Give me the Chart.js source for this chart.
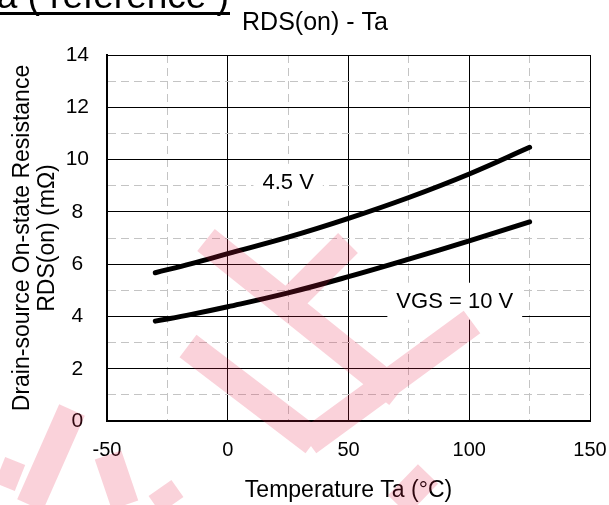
<!DOCTYPE html>
<html>
<head>
<meta charset="utf-8">
<script src="https://cdn.jsdelivr.net/npm/chart.js@4.4.1/dist/chart.umd.min.js"></script>
<style>
html, body { margin: 0; padding: 0; background: #fff; }
</style>
</head>
<body>
<canvas id="myChart" width="609" height="505"></canvas>
<script>
// RDS(on) - Ta
var temps = [-30, -15, 0, 25, 50, 75, 100, 125];
var rds45 = [5.67, 6.02, 6.4, 7.03, 7.75, 8.55, 9.45, 10.47];
var rds10 = [3.82, 4.08, 4.37, 4.9, 5.52, 6.19, 6.89, 7.62];
var seriesNames = ['VGS = 4.5 V', 'VGS = 10 V'];
var xTicks = [-50, 0, 50, 100, 150];
var yTicks = [0, 2, 4, 6, 8, 10, 12, 14];
// curve labels, anchored in data units
var noteText = ['4.5 V', 'VGS = 10 V'];
var noteX = [25, 94];
var noteY = [9.15, 4.6];

var FONT = "'Liberation Sans', Arial, sans-serif";
Chart.defaults.font.family = FONT;
Chart.defaults.color = '#000';

function pts(ys) {
    return temps.map(function (t, i) { return { x: t, y: ys[i] }; });
}

// curve labels with a white box behind them
var notes = {
    id: 'notes',
    afterDatasetsDraw: function (chart) {
        var c = chart.ctx, xs = chart.scales.x, ys = chart.scales.y;
        c.save();
        c.font = '22px ' + FONT;
        c.textAlign = 'center';
        c.textBaseline = 'middle';
        for (var i = 0; i < noteText.length; i++) {
            var px = xs.getPixelForValue(noteX[i]);
            var py = ys.getPixelForValue(noteY[i]);
            var w = c.measureText(noteText[i]).width;
            c.fillStyle = '#fff';
            c.fillRect(px - w / 2 - 9, py - 18, w + 18, 37);
            c.fillStyle = '#000';
            c.fillText(noteText[i], px, py + 1);
        }
        c.restore();
    }
};

// page heading, chart title and the pink watermark of the scan
var decor = {
    id: 'decor',
    afterDraw: function (chart) {
        var c = chart.ctx;
        c.save();
        c.fillStyle = '#000';
        c.font = '37px ' + FONT;
        c.textAlign = 'right';
        c.textBaseline = 'alphabetic';
        c.fillText('a ( reference )', 229, 8);
        c.fillRect(0, 12, 230, 3);

        c.font = '25px ' + FONT;
        c.textAlign = 'center';
        c.textBaseline = 'middle';
        c.fillText('RDS(on) - Ta', 315, 23);

        c.strokeStyle = 'rgba(230, 30, 70, 0.2)';
        c.lineWidth = 28;
        c.lineCap = 'butt';
        c.beginPath();
        [[206, 240, 398, 394], [348, 243, 285, 306], [188, 346, 314, 442],
         [472, 322, 308, 442], [72, 410, 30, 505], [108, 455, 125, 505],
         [160, 488, 172, 505], [0, 470, 20, 478], [398, 505, 428, 474]].forEach(function (s) {
            c.moveTo(s[0], s[1]);
            c.lineTo(s[2], s[3]);
        });
        c.stroke();
        c.restore();
    }
};

function isMajor(ctx, list) {
    return ctx.tick && list.indexOf(ctx.tick.value) >= 0;
}

var myChart = new Chart(document.getElementById('myChart').getContext('2d'), {
    type: 'line',
    data: {
        datasets: [{
            label: seriesNames[0],
            data: pts(rds45),
            borderColor: '#000',
            borderWidth: 5,
            borderCapStyle: 'round',
            pointRadius: 0,
            tension: 0.4,
            fill: false
        }, {
            label: seriesNames[1],
            data: pts(rds10),
            borderColor: '#000',
            borderWidth: 5,
            borderCapStyle: 'round',
            pointRadius: 0,
            tension: 0.4,
            fill: false
        }]
    },
    options: {
        responsive: false,
        animation: false,
        devicePixelRatio: 1,
        layout: { padding: { left: 0, right: 19, top: 55, bottom: 0 } },
        plugins: { legend: { display: false }, tooltip: { enabled: false } },
        scales: {
            x: {
                type: 'linear',
                min: -50,
                max: 150,
                ticks: {
                    stepSize: 25,
                    autoSkip: false,
                    maxRotation: 0,
                    padding: 17,
                    font: { size: 20 },
                    callback: function (v) { return xTicks.indexOf(v) >= 0 ? v : ''; }
                },
                grid: {
                    drawTicks: false,
                    lineWidth: 1,
                    color: function (ctx) { return isMajor(ctx, xTicks) ? '#000' : '#c4c4c4'; }
                },
                border: {
                    color: '#000',
                    width: 2,
                    dash: function (ctx) { return ctx.tick && !isMajor(ctx, xTicks) ? [8, 5] : []; }
                },
                title: {
                    display: true,
                    text: 'Temperature Ta (\u00B0C)',
                    font: { size: 23 },
                    padding: { top: 0, bottom: 1 }
                },
                afterFit: function (s) {
                    s.height = 84;
                    s.paddingLeft = 0;
                    s.paddingRight = 0;
                }
            },
            y: {
                min: 0,
                max: 14,
                ticks: {
                    stepSize: 1,
                    autoSkip: false,
                    padding: 18,
                    crossAlign: 'center',
                    font: { size: 21 },
                    callback: function (v) { return yTicks.indexOf(v) >= 0 ? v : ''; }
                },
                grid: {
                    drawTicks: false,
                    lineWidth: 1,
                    color: function (ctx) { return isMajor(ctx, yTicks) ? '#000' : '#c4c4c4'; }
                },
                border: {
                    color: '#000',
                    width: 2,
                    dash: function (ctx) { return ctx.tick && !isMajor(ctx, yTicks) ? [8, 5] : []; }
                },
                title: {
                    display: true,
                    text: ['Drain-source On-state Resistance', 'RDS(on) (m\u03A9)'],
                    font: { size: 23, lineHeight: 1.1 },
                    padding: { top: 10, bottom: 0 }
                },
                afterFit: function (s) {
                    s.width = 107;
                    s.paddingTop = 0;
                    s.paddingBottom = 0;
                }
            }
        }
    },
    plugins: [notes, decor]
});
</script>
</body>
</html>
